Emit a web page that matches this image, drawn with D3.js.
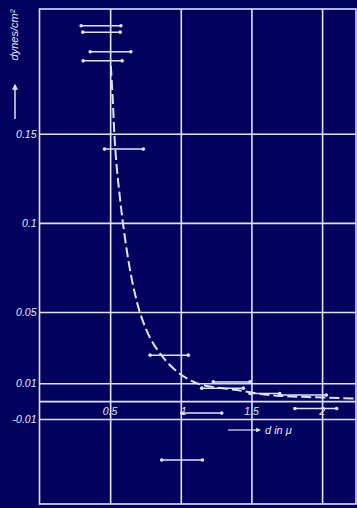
<!DOCTYPE html>
<html>
<head>
<meta charset="utf-8">
<script src="https://cdn.jsdelivr.net/npm/d3@7"></script>
<style>
  html, body { margin: 0; padding: 0; background: #02025e; }
  svg { display: block; }
  text { font-family: "Liberation Sans", "DejaVu Sans", sans-serif; font-style: italic; fill: #e4e8f8; }
</style>
</head>
<body>
<svg id="chart"></svg>
<script>
// Values (x: d in micron, y: dynes/cm2)
const yTicks = [0.15, 0.1, 0.05, 0.01, 0, -0.01];
const yTickLabels = ['0.15', '0.1', '0.05', '0.01', '', '-0.01'];
const xTicks = [0.5, 1, 1.5, 2];
const xTickLabels = ['0.5', '1', '1.5', '2'];

// dashed curve
const curveX = [0.505, 0.519, 0.530, 0.547, 0.566, 0.590, 0.629, 0.665, 0.712, 0.780, 0.862, 0.975, 1.066, 1.158, 1.396, 1.632, 1.865, 2.245];
const curveY = [0.188, 0.1685, 0.1495, 0.131, 0.1165, 0.1002, 0.079, 0.064, 0.0494, 0.036, 0.0258, 0.0164, 0.0118, 0.009, 0.0062, 0.0034, 0.0024, 0.0015];

// measured points with horizontal error ranges
const barY  = [0.2106, 0.207, 0.196, 0.1909, 0.1414, 0.0258, -0.033, -0.0067, 0.0108, 0.0073, 0.0043, 0.0034, -0.0041];
const barLo = [0.295, 0.307, 0.359, 0.309, 0.46, 0.783, 0.865, 1.007, 1.23, 1.148, 1.49, 1.70, 1.808];
const barHi = [0.576, 0.571, 0.646, 0.585, 0.735, 1.053, 1.153, 1.29, 1.49, 1.443, 1.70, 2.03, 2.103];

const W = 357, H = 508;
const ink = '#dfe3f6';

const svg = d3.select('#chart')
  .attr('width', W)
  .attr('height', H);

svg.append('rect')
  .attr('width', W).attr('height', H)
  .attr('fill', '#02025e');

// scales
const x = d3.scaleLinear().domain([0, 2.24]).range([39.5, 356]);
const y = d3.scaleLinear().domain([-0.0577, 0.22]).range([504, 9]);

// frame
svg.append('rect')
  .attr('x', x(0)).attr('y', y(0.22))
  .attr('width', x(2.24) - x(0))
  .attr('height', y(-0.0577) - y(0.22))
  .attr('fill', 'none')
  .attr('stroke', ink)
  .attr('stroke-width', 1.6);

// horizontal grid + y labels
const yAxis = d3.axisLeft(y)
  .tickValues(yTicks)
  .tickSize(-(x(2.24) - x(0)))
  .tickPadding(3)
  .tickFormat((d, i) => yTickLabels[i]);

const gy = svg.append('g')
  .attr('transform', `translate(${x(0)},0)`)
  .call(yAxis);
gy.select('.domain').remove();
gy.selectAll('line').attr('stroke', ink).attr('stroke-width', 1.6);
gy.selectAll('text')
  .attr('font-size', 10.5)
  .attr('font-family', '"Liberation Sans", sans-serif')
  .attr('font-style', 'italic')
  .attr('fill', ink);

// vertical grid
const xAxis = d3.axisBottom(x)
  .tickValues(xTicks)
  .tickSize(y(-0.0577) - y(0.22))
  .tickFormat('');
const gx = svg.append('g')
  .attr('transform', `translate(0,${y(0.22)})`)
  .call(xAxis);
gx.select('.domain').remove();
gx.selectAll('line').attr('stroke', ink).attr('stroke-width', 1.6);

// x labels sit between the 0 and -0.01 lines
svg.append('g')
  .selectAll('text')
  .data(xTicks)
  .join('text')
  .attr('x', (d, i) => x(d) + (i === 1 ? 3 : 0))
  .attr('y', y(0) + 14)
  .attr('text-anchor', 'middle')
  .attr('font-size', 10.5)
  .text((d, i) => xTickLabels[i]);

// error bars
const bars = barY.map((v, i) => ({ y: v, lo: barLo[i], hi: barHi[i] }));
const gb = svg.append('g');
gb.selectAll('line')
  .data(bars)
  .join('line')
  .attr('x1', d => x(d.lo))
  .attr('x2', d => x(d.hi))
  .attr('y1', d => y(d.y))
  .attr('y2', d => y(d.y))
  .attr('stroke', ink)
  .attr('stroke-width', 1.5);
gb.selectAll('circle')
  .data(bars.flatMap(d => [[d.lo, d.y], [d.hi, d.y]]))
  .join('circle')
  .attr('cx', d => x(d[0]))
  .attr('cy', d => y(d[1]))
  .attr('r', 1.8)
  .attr('fill', ink);

// dashed curve
const line = d3.line()
  .x(d => x(d[0]))
  .y(d => y(d[1]))
  .curve(d3.curveCatmullRom);
svg.append('path')
  .datum(curveX.map((v, i) => [v, curveY[i]]))
  .attr('d', line)
  .attr('fill', 'none')
  .attr('stroke', ink)
  .attr('stroke-width', 2)
  .attr('stroke-dasharray', '10,4');

// y axis title with arrow
svg.append('text')
  .attr('transform', 'translate(18,35) rotate(-90)')
  .attr('text-anchor', 'middle')
  .attr('font-size', 11)
  .text('dynes/cm²');

const defs = svg.append('defs');
defs.append('marker')
  .attr('id', 'arr')
  .attr('viewBox', '0 0 10 10')
  .attr('refX', 8).attr('refY', 5)
  .attr('markerWidth', 4).attr('markerHeight', 4)
  .attr('orient', 'auto')
  .append('path')
  .attr('d', 'M0,0 L10,5 L0,10 Z')
  .attr('fill', ink);

svg.append('line')
  .attr('x1', 15).attr('x2', 15)
  .attr('y1', 119).attr('y2', 85)
  .attr('stroke', ink).attr('stroke-width', 1.5)
  .attr('marker-end', 'url(#arr)');

// x axis title with arrow
svg.append('line')
  .attr('x1', 228).attr('x2', 260)
  .attr('y1', 430).attr('y2', 430)
  .attr('stroke', ink).attr('stroke-width', 1.2)
  .attr('marker-end', 'url(#arr)');

svg.append('text')
  .attr('x', 265)
  .attr('y', 434)
  .attr('font-size', 11)
  .text('d in μ');
</script>
</body>
</html>
